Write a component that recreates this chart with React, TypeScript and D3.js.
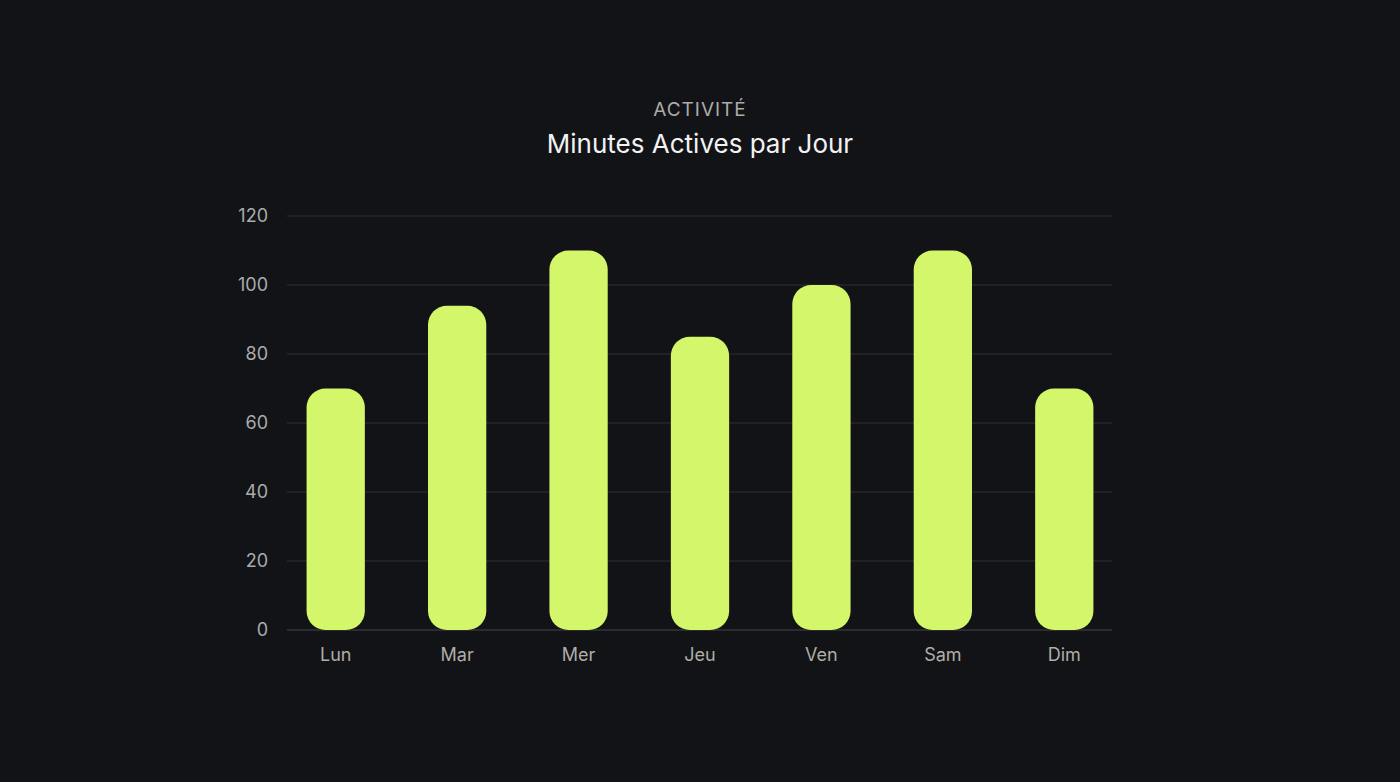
import React from "react";
import * as d3 from "d3";

const days = ["Lun", "Mar", "Mer", "Jeu", "Ven", "Sam", "Dim"];
const minutes = [70, 94, 110, 85, 100, 110, 70];
const yTicks = [0, 20, 40, 60, 80, 100, 120];

const W = 1400;
const H = 782;

export default function App() {
  const x = d3
    .scaleBand<string>()
    .domain(days)
    .range([275, 1125])
    .paddingInner(0.52)
    .paddingOuter(0.26);
  const y = d3.scaleLinear().domain([0, 120]).range([630, 216]);
  const bw = x.bandwidth();
  const r = 19;
  const font = "Inter, 'Noto Sans', sans-serif";

  return (
    <svg
      width={W}
      height={H}
      style={{ position: "fixed", left: 0, top: 0, display: "block" }}
    >
      <rect width={W} height={H} fill="#121317" />
      <text
        x={700}
        y={116}
        textAnchor="middle"
        fill="#ababab"
        fontFamily={font}
        fontSize={19}
        letterSpacing={1}
      >
        ACTIVITÉ
      </text>
      <text
        x={700}
        y={153}
        textAnchor="middle"
        fill="#f2f2f2"
        fontFamily={font}
        fontSize={26}
      >
        Minutes Actives par Jour
      </text>
      {yTicks.map((t) => (
        <g key={t}>
          <line
            x1={287}
            x2={1112}
            y1={y(t)}
            y2={y(t)}
            stroke={t === 0 ? "#45464b" : "#2e2f34"}
            strokeWidth={1}
          />
          <text
            x={268}
            y={y(t)}
            dy="0.35em"
            textAnchor="end"
            fill="#ababab"
            fontFamily={font}
            fontSize={18}
          >
            {t}
          </text>
        </g>
      ))}
      {days.map((d, i) => (
        <rect
          key={d}
          x={x(d)}
          y={y(minutes[i])}
          width={bw}
          height={y(0) - y(minutes[i])}
          rx={r}
          ry={r}
          fill="#d3f66a"
        />
      ))}
      {days.map((d) => (
        <text
          key={d}
          x={(x(d) as number) + bw / 2}
          y={661}
          textAnchor="middle"
          fill="#b0aca6"
          fontFamily={font}
          fontSize={18}
        >
          {d}
        </text>
      ))}
    </svg>
  );
}
